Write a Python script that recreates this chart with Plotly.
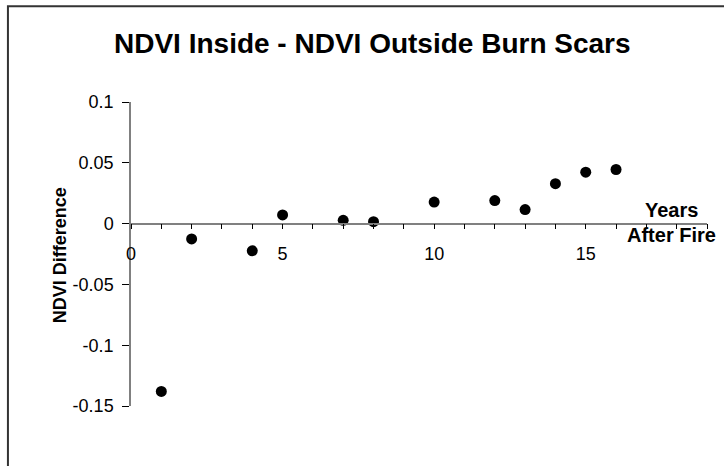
import plotly.graph_objects as go

years_after_fire = [1, 2, 4, 5, 7, 8, 10, 12, 13, 14, 15, 16]
ndvi_difference = [-0.138, -0.0126, -0.0224, 0.0071, 0.0027, 0.0016,
                   0.0177, 0.0189, 0.0115, 0.0328, 0.0423, 0.0445]
y_tick_values = [-0.15, -0.1, -0.05, 0, 0.05, 0.1]
y_tick_labels = ["-0.15", "-0.1", "-0.05", "0", "0.05", "0.1"]
title_text = "NDVI Inside - NDVI Outside Burn Scars"
y_title = "NDVI Difference"
x_title_lines = ["Years", "After Fire"]

FONT = "Arial, Liberation Sans, sans-serif"
W, H = 724, 466
L, R, T, B = 131, 17.3, 101.7, 60.3
pw = W - L - R
ph = H - T - B

def px(x):
    return (x - L) / pw

def py(y):
    return (H - B - y) / ph

fig = go.Figure()
fig.add_trace(go.Scatter(
    x=years_after_fire, y=ndvi_difference, mode="markers",
    marker=dict(color="black", size=11, line=dict(width=0)),
    showlegend=False, cliponaxis=False, hoverinfo="skip",
))

fig.update_layout(
    width=W, height=H,
    margin=dict(l=L, r=R, t=T, b=B, pad=0),
    paper_bgcolor="white", plot_bgcolor="white",
    font=dict(family=FONT, color="black", size=18),
    xaxis=dict(
        range=[0, 19], tickmode="linear", tick0=0, dtick=5,
        showgrid=False, zeroline=False,
        showline=True, linecolor="#808080", linewidth=1.5,
        anchor="free", position=0.6,
        ticks="outside", ticklen=5, tickcolor="black", tickwidth=1,
        ticklabelstandoff=9,
        tickfont=dict(family=FONT, size=18, color="black"),
        minor=dict(dtick=1, ticks="outside", ticklen=5, tickcolor="black", tickwidth=1, showgrid=False),
    ),
    yaxis=dict(
        range=[-0.15, 0.1],
        tickvals=y_tick_values, ticktext=y_tick_labels,
        showgrid=False, zeroline=False,
        showline=True, linecolor="#808080", linewidth=1.5,
        ticks="outside", ticklen=7, tickcolor="black", tickwidth=1,
        ticklabelstandoff=5,
        tickfont=dict(family=FONT, size=18, color="black"),
    ),
    annotations=[
        dict(text=title_text, x=px(372), y=py(43), xref="paper", yref="paper",
             xanchor="center", yanchor="middle", showarrow=False,
             font=dict(family=FONT, size=28, color="black", weight="bold")),
        dict(text=y_title, x=px(60), y=py(255), xref="paper", yref="paper",
             xanchor="center", yanchor="middle", showarrow=False, textangle=-90,
             font=dict(family=FONT, size=18, color="black", weight="bold")),
        dict(text=x_title_lines[0], x=px(671), y=py(210), xref="paper", yref="paper",
             xanchor="center", yanchor="middle", showarrow=False,
             font=dict(family=FONT, size=20, color="black", weight="bold")),
        dict(text=x_title_lines[1], x=px(671), y=py(235), xref="paper", yref="paper",
             xanchor="center", yanchor="middle", showarrow=False,
             font=dict(family=FONT, size=20, color="black", weight="bold")),
    ],
    shapes=[
        dict(type="rect", xref="paper", yref="paper",
             x0=px(8), x1=px(760), y0=py(500), y1=py(6),
             line=dict(color="#333333", width=2), fillcolor="rgba(0,0,0,0)", layer="below"),
    ],
)

fig.write_html("out.html", config={"displayModeBar": False},
               post_script="document.body.style.margin='0';")
